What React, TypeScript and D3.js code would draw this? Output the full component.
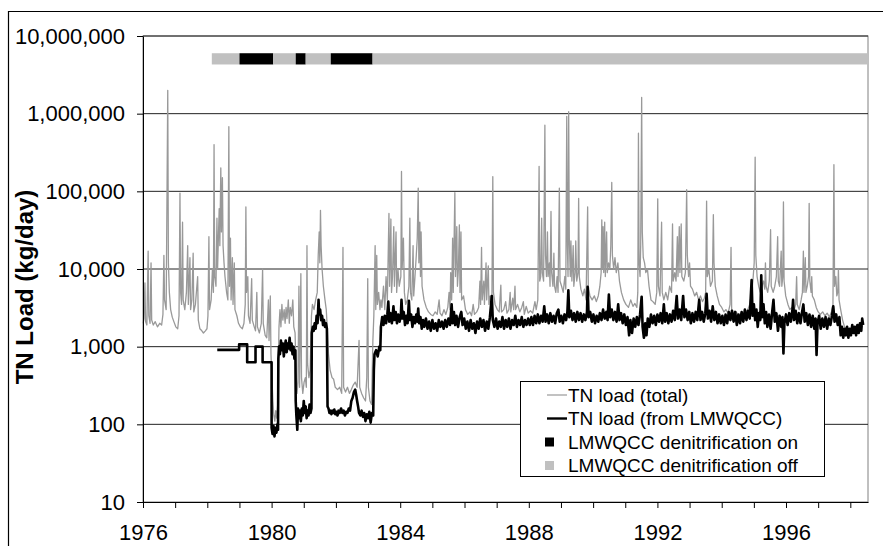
import * as d3 from "d3";
import { useEffect, useRef } from "react";

// decimal year, kg/day
const totalLoad: [number, number][] = [
  [1976.00,2000],[1976.03,2300],[1976.06,6600],[1976.08,2100],[1976.12,1900],[1976.16,17000],[1976.18,2500],[1976.22,2000],[1976.25,12000],[1976.27,2200],[1976.32,1900],[1976.38,2100],[1976.45,1800],[1976.52,2000],[1976.58,1900],[1976.62,2600],[1976.65,15000],[1976.67,4000],[1976.72,3000],[1976.77,2000000],[1976.79,12000],[1976.82,5000],[1976.86,3000],[1976.91,2400],[1976.96,2100],
  [1977.02,1800],[1977.08,1700],[1977.12,2500],[1977.15,95000],[1977.17,5000],[1977.20,3500],[1977.23,40000],[1977.25,4000],[1977.30,3000],[1977.35,5000],[1977.39,20000],[1977.41,3500],[1977.46,14000],[1977.48,3000],[1977.52,4000],[1977.56,16000],[1977.58,2800],[1977.63,3500],[1977.70,8000],[1977.72,2200],[1977.77,1700],[1977.83,1600],[1977.88,1500],[1977.94,1600],[1977.99,1700],
  [1978.02,2500],[1978.05,26000],[1978.07,3000],[1978.12,4000],[1978.16,10000],[1978.19,5000],[1978.21,400000],[1978.23,8000],[1978.27,6000],[1978.30,45000],[1978.32,10000],[1978.35,30000],[1978.37,60000],[1978.39,20000],[1978.42,200000],[1978.44,30000],[1978.47,150000],[1978.49,20000],[1978.52,12000],[1978.55,8000],[1978.60,5000],[1978.64,4000],[1978.67,680000],[1978.69,6000],[1978.72,25000],[1978.74,4000],[1978.78,14000],[1978.80,3500],[1978.84,12000],[1978.86,3000],[1978.92,2500],[1978.97,2000],
  [1979.03,1800],[1979.09,1700],[1979.14,2000],[1979.18,3500],[1979.20,63000],[1979.22,5000],[1979.26,8000],[1979.28,2500],[1979.33,2000],[1979.38,7500],[1979.40,2200],[1979.46,1800],[1979.50,1600],[1979.54,5000],[1979.56,1800],[1979.62,1500],[1979.68,2000],[1979.72,10000],[1979.74,2000],[1979.80,1400],[1979.85,1300],[1979.90,4000],[1979.92,1200],[1979.96,4500],[1979.98,800],
  [1980.01,400],[1980.04,200],[1980.07,130],[1980.10,110],[1980.13,150],[1980.16,120],[1980.19,180],[1980.21,600],[1980.23,1800],[1980.26,3000],[1980.29,1800],[1980.32,3500],[1980.35,2200],[1980.39,3000],[1980.42,2000],[1980.45,3200],[1980.48,2300],[1980.52,4000],[1980.55,2000],[1980.58,3200],[1980.62,2500],[1980.66,4000],[1980.69,1800],[1980.73,1500],[1980.76,500],[1980.79,250],[1980.82,350],[1980.85,6000],[1980.87,300],[1980.91,8700],[1980.93,400],[1980.97,250],
  [1981.01,350],[1981.05,400],[1981.08,300],[1981.10,20000],[1981.12,600],[1981.16,400],[1981.20,500],[1981.24,2500],[1981.27,3500],[1981.32,3000],[1981.37,4000],[1981.42,5000],[1981.45,15000],[1981.48,30000],[1981.50,12000],[1981.52,57000],[1981.54,20000],[1981.57,10000],[1981.61,6000],[1981.66,4000],[1981.70,3000],[1981.74,1500],[1981.77,800],[1981.82,500],[1981.88,400],[1981.93,380],[1981.98,300],
  [1982.05,280],[1982.12,300],[1982.18,250],[1982.22,19000],[1982.24,300],[1982.30,260],[1982.36,300],[1982.42,250],[1982.48,280],[1982.54,320],[1982.60,350],[1982.66,300],[1982.72,1200],[1982.74,300],[1982.80,250],[1982.86,220],[1982.92,200],[1982.96,400],[1982.99,7500],
  [1983.01,300],[1983.06,200],[1983.11,180],[1983.15,1200],[1983.18,2500],[1983.22,20000],[1983.24,3000],[1983.27,15000],[1983.29,3500],[1983.33,5000],[1983.37,3000],[1983.40,4000],[1983.43,3200],[1983.48,6000],[1983.52,3000],[1983.56,8000],[1983.60,4000],[1983.65,52000],[1983.67,6000],[1983.71,44000],[1983.73,5000],[1983.76,8000],[1983.80,35000],[1983.82,6000],[1983.87,30000],[1983.89,5000],[1983.93,10000],[1983.97,6000],
  [1984.02,8000],[1984.04,180000],[1984.06,10000],[1984.10,25000],[1984.13,5000],[1984.17,3500],[1984.22,4000],[1984.27,6000],[1984.30,45000],[1984.32,5000],[1984.36,4000],[1984.40,20000],[1984.42,4500],[1984.46,8000],[1984.50,15000],[1984.53,25000],[1984.56,110000],[1984.58,12000],[1984.61,40000],[1984.63,8000],[1984.65,30000],[1984.68,6000],[1984.74,4000],[1984.81,3200],[1984.88,2800],[1984.95,2600],
  [1985.02,2500],[1985.09,2800],[1985.15,2600],[1985.21,4000],[1985.24,2700],[1985.30,2500],[1985.36,3000],[1985.42,2600],[1985.48,3200],[1985.52,5000],[1985.55,3000],[1985.57,9000],[1985.60,4000],[1985.63,25000],[1985.65,5000],[1985.70,96000],[1985.72,8000],[1985.76,35000],[1985.78,6000],[1985.81,10000],[1985.84,37000],[1985.86,5000],[1985.89,30000],[1985.91,4000],[1985.97,4500],
  [1986.03,3000],[1986.10,2600],[1986.17,2800],[1986.22,2500],[1986.27,3500],[1986.31,2600],[1986.38,2800],[1986.44,3200],[1986.48,7000],[1986.50,3500],[1986.53,19000],[1986.55,4000],[1986.60,7000],[1986.62,3500],[1986.67,12000],[1986.69,4000],[1986.74,11000],[1986.76,3500],[1986.80,4500],[1986.85,3000],[1986.88,155000],[1986.90,5000],[1986.95,3500],
  [1987.02,3000],[1987.08,2800],[1987.13,6200],[1987.15,2800],[1987.22,3000],[1987.28,3800],[1987.32,2700],[1987.38,3000],[1987.42,5000],[1987.44,2800],[1987.50,4200],[1987.53,3000],[1987.57,6000],[1987.59,3000],[1987.65,3500],[1987.72,2800],[1987.78,3200],[1987.83,3800],[1987.86,2600],[1987.92,3300],[1987.98,2700],
  [1988.05,2900],[1988.12,2700],[1988.19,3800],[1988.23,3000],[1988.28,4000],[1988.32,210000],[1988.34,7000],[1988.37,8000],[1988.40,45000],[1988.42,9000],[1988.46,7000],[1988.50,710000],[1988.52,15000],[1988.55,8000],[1988.58,30000],[1988.60,8000],[1988.64,12000],[1988.66,6000],[1988.69,55000],[1988.71,9000],[1988.75,6000],[1988.78,16000],[1988.80,6000],[1988.84,5000],[1988.88,8000],[1988.91,5000],[1988.95,110000],[1988.97,7000],
  [1989.02,6000],[1989.07,5000],[1989.12,8000],[1989.15,5500],[1989.18,920000],[1989.20,20000],[1989.22,8000],[1989.24,1060000],[1989.26,25000],[1989.29,8000],[1989.31,23000],[1989.34,7000],[1989.38,20000],[1989.40,6000],[1989.44,9000],[1989.46,23000],[1989.49,7000],[1989.53,9000],[1989.55,81000],[1989.57,8000],[1989.62,5500],[1989.68,4500],[1989.73,5500],[1989.78,4000],[1989.83,63000],[1989.85,6000],[1989.90,4500],[1989.97,4000],
  [1990.04,4500],[1990.10,3800],[1990.16,4500],[1990.21,6000],[1990.25,9000],[1990.27,43000],[1990.29,10000],[1990.31,35000],[1990.33,9000],[1990.36,40000],[1990.38,8000],[1990.42,30000],[1990.44,9000],[1990.48,12000],[1990.52,10000],[1990.55,20000],[1990.58,130000],[1990.60,15000],[1990.64,10000],[1990.68,14000],[1990.72,9000],[1990.77,12000],[1990.82,7000],[1990.88,5000],[1990.95,4000],
  [1991.02,3500],[1991.10,3200],[1991.17,4000],[1991.24,3300],[1991.30,3600],[1991.36,3200],[1991.39,5000],[1991.41,560000],[1991.43,12000],[1991.46,8000],[1991.48,20000],[1991.51,1620000],[1991.53,30000],[1991.56,14000],[1991.60,12000],[1991.64,9000],[1991.69,10000],[1991.74,6000],[1991.80,4000],[1991.86,3800],[1991.93,3500],[1991.98,5000],
  [1992.01,80000],[1992.03,6000],[1992.08,4500],[1992.13,40000],[1992.15,5000],[1992.20,4000],[1992.26,5000],[1992.32,4000],[1992.38,6000],[1992.44,5000],[1992.47,38000],[1992.49,7000],[1992.54,9000],[1992.58,7000],[1992.62,26000],[1992.64,8000],[1992.68,35000],[1992.70,9000],[1992.74,38000],[1992.76,8000],[1992.82,7000],[1992.87,9000],[1992.91,105000],[1992.93,15000],[1992.97,8000],
  [1993.00,12000],[1993.03,6000],[1993.09,5500],[1993.16,4500],[1993.22,5000],[1993.28,4000],[1993.34,4500],[1993.40,3800],[1993.46,4200],[1993.50,5000],[1993.53,75000],[1993.55,8000],[1993.60,10000],[1993.65,6000],[1993.71,7000],[1993.74,50000],[1993.76,12000],[1993.80,6000],[1993.86,4500],[1993.93,3500],
  [1994.00,3200],[1994.07,2800],[1994.13,3000],[1994.20,2700],[1994.26,3500],[1994.29,19000],[1994.31,3000],[1994.38,2600],[1994.45,2800],[1994.52,2500],[1994.60,2700],[1994.67,2600],[1994.74,2800],[1994.81,3000],[1994.87,3500],[1994.93,5000],[1994.97,7000],
  [1995.01,12000],[1995.04,275000],[1995.06,15000],[1995.10,8000],[1995.15,6000],[1995.20,5000],[1995.25,6000],[1995.30,7000],[1995.34,5500],[1995.36,12000],[1995.38,6000],[1995.43,5000],[1995.48,7000],[1995.52,32000],[1995.54,6000],[1995.60,5000],[1995.65,6000],[1995.70,8000],[1995.74,26000],[1995.76,7000],[1995.80,6000],[1995.85,17000],[1995.87,6000],[1995.90,8000],[1995.92,73000],[1995.94,7000],[1995.99,4500],
  [1996.06,3500],[1996.12,3000],[1996.18,3200],[1996.24,2800],[1996.30,3500],[1996.33,8000],[1996.35,3500],[1996.41,3000],[1996.47,4000],[1996.51,5000],[1996.54,17000],[1996.56,5000],[1996.60,14000],[1996.62,5000],[1996.66,6000],[1996.70,8000],[1996.72,70000],[1996.74,7000],[1996.78,5000],[1996.80,8000],[1996.82,4500],[1996.88,4000],[1996.94,3200],
  [1997.00,2800],[1997.07,2600],[1997.14,2800],[1997.21,2500],[1997.28,2700],[1997.35,2400],[1997.41,2800],[1997.46,3500],[1997.49,220000],[1997.51,6000],[1997.55,8000],[1997.58,4500],[1997.61,5000],[1997.63,10000],[1997.65,4000],[1997.70,3000],[1997.76,2200],[1997.82,1800],[1997.90,1700],
  [1998.00,1600],[1998.10,1700],[1998.20,1600],[1998.30,1800],[1998.40,2000],
];

const lmwqccLoad: [number, number][] = [
  [1978.31,910],[1978.99,910],[1978.99,1070],[1979.24,1070],[1979.24,630],[1979.50,630],[1979.50,1000],[1979.72,1000],[1979.72,630],[1980.00,630],
  [1980.00,90],[1980.03,75],[1980.06,95],[1980.09,70],[1980.12,90],[1980.15,78],[1980.18,100],[1980.20,85],
  [1980.21,700],[1980.23,1000],[1980.26,800],[1980.29,1200],[1980.32,900],[1980.35,1100],[1980.38,750],[1980.41,1000],[1980.44,1200],[1980.47,850],[1980.50,1100],[1980.53,950],[1980.56,1300],[1980.59,900],[1980.62,1100],[1980.65,800],[1980.68,1000],[1980.71,700],[1980.74,900],
  [1980.75,200],[1980.77,130],[1980.80,85],[1980.82,160],[1980.85,120],[1980.88,150],[1980.91,110],[1980.94,160],[1980.97,130],[1981.00,200],[1981.03,140],[1981.06,170],[1981.09,120],[1981.12,150],[1981.15,130],[1981.18,180],[1981.21,140],[1981.24,160],
  [1981.25,1500],[1981.28,1800],[1981.31,1600],[1981.34,2000],[1981.37,1700],[1981.40,2500],[1981.43,2000],[1981.46,4000],[1981.48,2600],[1981.51,3000],[1981.54,2200],[1981.57,2500],[1981.60,1900],[1981.63,2200],[1981.66,1800],[1981.69,2000],[1981.72,1700],
  [1981.74,170],[1981.77,160],[1981.80,140],[1981.83,150],[1981.86,135],[1981.89,150],[1981.92,140],[1981.95,155],[1981.98,135],[1982.01,145],[1982.05,130],[1982.08,150],[1982.12,140],[1982.16,160],[1982.20,140],[1982.24,150],[1982.28,130],[1982.32,145],[1982.36,140],[1982.40,160],[1982.44,150],[1982.48,200],[1982.52,220],[1982.56,260],[1982.60,280],[1982.63,240],[1982.66,200],[1982.69,170],[1982.72,140],[1982.76,130],[1982.80,150],[1982.84,125],[1982.88,140],[1982.92,110],[1982.96,135],[1983.00,120],[1983.04,145],[1983.08,105],[1983.12,140],[1983.16,130],
  [1983.18,500],[1983.20,800],[1983.25,900],[1983.30,750],[1983.35,1000],[1983.38,900],
  [1983.40,1800],[1983.44,2400],[1983.48,1900],[1983.52,2500],[1983.56,2000],[1983.60,2600],[1983.63,3800],[1983.66,2100],[1983.70,2700],[1983.74,2000],[1983.79,3300],[1983.82,2200],[1983.86,2800],[1983.90,2000],[1983.94,2600],[1983.98,2100],
  [1984.02,2500],[1984.04,4000],[1984.07,2300],[1984.11,2800],[1984.15,1900],[1984.19,2500],[1984.23,2000],[1984.27,3900],[1984.30,2200],[1984.34,2600],[1984.38,1800],[1984.42,2400],[1984.46,2000],[1984.50,2600],[1984.53,2100],[1984.56,3100],[1984.59,2000],[1984.63,2400],[1984.67,1700],[1984.71,2200],[1984.75,1800],[1984.80,2300],[1984.85,1700],[1984.90,2100],[1984.95,1600],
  [1985.00,2200],[1985.05,1700],[1985.10,2000],[1985.15,1600],[1985.20,2200],[1985.25,1800],[1985.30,2100],[1985.35,1700],[1985.40,2200],[1985.45,1800],[1985.50,2300],[1985.55,1900],[1985.60,3500],[1985.63,2000],[1985.67,2800],[1985.71,1900],[1985.75,2500],[1985.80,1800],[1985.85,2400],[1985.90,2800],[1985.94,1900],[1985.99,2300],
  [1986.04,1700],[1986.09,2100],[1986.14,1600],[1986.19,2200],[1986.24,1700],[1986.29,2000],[1986.34,1500],[1986.39,2100],[1986.44,1700],[1986.49,2300],[1986.54,1800],[1986.59,2200],[1986.64,1600],[1986.69,2100],[1986.74,1700],[1986.79,2400],[1986.85,4500],[1986.88,2200],[1986.93,1800],[1986.98,2300],
  [1987.03,1700],[1987.08,2100],[1987.13,1800],[1987.18,2400],[1987.23,1700],[1987.28,2200],[1987.33,1800],[1987.38,2300],[1987.43,1700],[1987.48,2200],[1987.53,1900],[1987.58,2500],[1987.63,1800],[1987.68,2200],[1987.73,1900],[1987.78,2400],[1987.83,1800],[1987.88,2200],[1987.93,1900],[1987.98,2300],
  [1988.03,1900],[1988.08,2400],[1988.13,1900],[1988.18,2500],[1988.23,2000],[1988.28,2600],[1988.33,2000],[1988.38,2500],[1988.43,2100],[1988.48,3300],[1988.52,2100],[1988.57,2600],[1988.62,2000],[1988.67,2700],[1988.72,2100],[1988.77,2500],[1988.82,2000],[1988.87,2700],[1988.92,3000],[1988.96,2100],
  [1989.01,2500],[1989.06,2000],[1989.11,2600],[1989.16,2200],[1989.20,2800],[1989.23,5300],[1989.26,2400],[1989.31,2900],[1989.36,2200],[1989.41,2700],[1989.46,2100],[1989.51,2800],[1989.56,2200],[1989.61,2700],[1989.66,2100],[1989.71,2600],[1989.76,2200],[1989.81,2800],[1989.83,5900],[1989.86,2400],[1989.91,2800],[1989.96,2100],
  [1990.01,2600],[1990.06,2000],[1990.11,2500],[1990.16,2100],[1990.21,2700],[1990.26,2200],[1990.31,3000],[1990.36,2300],[1990.41,2800],[1990.45,2200],[1990.49,4700],[1990.53,2400],[1990.58,3000],[1990.63,2200],[1990.68,2800],[1990.73,2100],[1990.78,3500],[1990.82,2200],[1990.87,2700],[1990.92,2000],[1990.97,2600],
  [1991.02,1900],[1991.07,2400],[1991.12,1400],[1991.16,2200],[1991.21,1500],[1991.26,2300],[1991.31,1800],[1991.36,2400],[1991.41,1900],[1991.46,2600],[1991.51,4400],[1991.54,1800],[1991.58,1300],[1991.62,2000],[1991.66,1400],[1991.70,2300],[1991.75,1800],[1991.80,2600],[1991.85,2000],[1991.90,2500],[1991.95,1900],
  [1992.00,2600],[1992.05,2100],[1992.10,2700],[1992.15,2000],[1992.20,3500],[1992.24,2100],[1992.29,2700],[1992.34,2000],[1992.39,2600],[1992.44,2100],[1992.49,2900],[1992.54,2200],[1992.60,4500],[1992.64,2300],[1992.69,3000],[1992.74,2200],[1992.80,4500],[1992.84,2400],[1992.89,3000],[1992.94,2200],[1992.99,2800],
  [1993.04,2000],[1993.09,2700],[1993.14,2100],[1993.19,2800],[1993.24,2200],[1993.30,4000],[1993.34,2200],[1993.39,2800],[1993.44,2100],[1993.49,2700],[1993.53,4800],[1993.57,2300],[1993.62,2900],[1993.67,2100],[1993.72,3300],[1993.77,2200],[1993.82,2800],[1993.87,2000],[1993.92,2600],[1993.97,2000],
  [1994.02,2500],[1994.07,1900],[1994.12,2600],[1994.17,2000],[1994.22,2800],[1994.27,2200],[1994.32,2900],[1994.37,2100],[1994.42,2800],[1994.47,1900],[1994.52,2600],[1994.57,2000],[1994.62,2800],[1994.67,2100],[1994.72,3000],[1994.77,2200],[1994.82,2900],[1994.87,2300],[1994.93,7200],[1994.96,2500],
  [1995.00,3500],[1995.04,2200],[1995.08,3000],[1995.12,1800],[1995.16,2700],[1995.20,2200],[1995.23,8300],[1995.26,2400],[1995.30,3500],[1995.34,2000],[1995.38,2800],[1995.42,1800],[1995.47,2600],[1995.52,1700],[1995.57,2800],[1995.61,4000],[1995.65,2100],[1995.70,2700],[1995.75,1600],[1995.80,2500],[1995.85,1800],[1995.89,2400],[1995.92,820],[1995.95,2000],
  [1996.00,2600],[1996.05,1900],[1996.10,2700],[1996.15,2100],[1996.20,3000],[1996.22,4000],[1996.25,2200],[1996.30,2900],[1996.35,2000],[1996.40,2700],[1996.45,2000],[1996.50,2800],[1996.54,3500],[1996.58,2100],[1996.63,2700],[1996.68,1900],[1996.73,2600],[1996.78,1800],[1996.83,2500],[1996.88,1700],[1996.92,2300],[1996.95,780],[1996.98,2000],
  [1997.03,2500],[1997.08,1700],[1997.13,2300],[1997.18,1800],[1997.23,2400],[1997.28,1700],[1997.33,2300],[1997.38,1900],[1997.43,2500],[1997.47,3300],[1997.51,2100],[1997.56,2600],[1997.61,1900],[1997.66,2400],[1997.70,1400],[1997.74,1800],[1997.78,1300],[1997.82,1700],[1997.86,1400],[1997.90,1800],[1997.94,1300],[1997.98,1700],
  [1998.02,1400],[1998.06,1900],[1998.10,1500],[1998.14,1800],[1998.18,1400],[1998.22,1900],[1998.26,1500],[1998.30,2000],[1998.34,1600],[1998.37,2300],[1998.40,1900],
];

// denitrification status periods: start, end, on?
const denitStart = [1978.14, 1979.0, 1980.05, 1980.75, 1981.06, 1981.84, 1983.14];
const denitEnd = [1979.0, 1980.05, 1980.75, 1981.06, 1981.84, 1983.14, 1998.55];
const denitOn = [false, true, false, true, false, true, false];

const yTicks = [10, 100, 1000, 10000, 100000, 1000000, 10000000];
const yearTicks = d3.range(1976, 1999);
const labelYears = [1976, 1980, 1984, 1988, 1992, 1996];
const legendLabels = [
  "TN load (total)",
  "TN load (from LMWQCC)",
  "LMWQCC denitrification on",
  "LMWQCC denitrification off",
];

const FONT = "Arial, 'Liberation Sans', sans-serif";

export default function App() {
  const svgRef = useRef<SVGSVGElement>(null);

  useEffect(() => {
    const svg = d3.select(svgRef.current);
    svg.selectAll("*").remove();

    const x = d3.scaleLinear().domain([1976, 1998.55]).range([143, 868]);
    const y = d3.scaleLog().domain([10, 1e7]).range([502, 36]);

    // chart area border (cut off by the picture on right and bottom)
    svg.append("path")
      .attr("d", "M8.5,600V11.5H900")
      .attr("fill", "none")
      .attr("stroke", "#000")
      .attr("stroke-width", 1.2);

    // plot area
    svg.append("rect")
      .attr("x", 143).attr("y", 36)
      .attr("width", 868 - 143).attr("height", 502 - 36)
      .attr("fill", "none")
      .attr("stroke", "#808080");

    svg.append("g")
      .selectAll("line")
      .data(yTicks.slice(1))
      .join("line")
      .attr("x1", 143).attr("x2", 868)
      .attr("y1", (d) => y(d)).attr("y2", (d) => y(d))
      .attr("stroke", "#222")
      .attr("stroke-width", 1);

    // denitrification bar
    svg.append("g")
      .selectAll("rect")
      .data(denitStart)
      .join("rect")
      .attr("x", (d) => x(d))
      .attr("width", (d, i) => x(denitEnd[i]) - x(d))
      .attr("y", y(6.0e6))
      .attr("height", y(4.3e6) - y(6.0e6))
      .attr("fill", (d, i) => (denitOn[i] ? "#000" : "#c0c0c0"));

    const line = d3.line<[number, number]>()
      .x((d) => x(d[0]))
      .y((d) => y(d[1]));

    svg.append("path")
      .attr("d", line(totalLoad))
      .attr("fill", "none")
      .attr("stroke", "#999")
      .attr("stroke-width", 1.3)
      .attr("stroke-linejoin", "round");

    svg.append("path")
      .attr("d", line(lmwqccLoad))
      .attr("fill", "none")
      .attr("stroke", "#000")
      .attr("stroke-width", 2.6)
      .attr("stroke-linejoin", "round");

    // axes
    const xAxis = d3.axisBottom(x)
      .tickValues(yearTicks)
      .tickSize(6)
      .tickSizeOuter(0)
      .tickPadding(16)
      .tickFormat((d) => (labelYears.includes(+d) ? String(d) : ""));
    const gx = svg.append("g").attr("transform", "translate(0,502)").call(xAxis);

    const yAxis = d3.axisLeft(y)
      .tickValues(yTicks)
      .tickSize(6)
      .tickSizeOuter(0)
      .tickPadding(12)
      .tickFormat((d) => d3.format(",")(+d));
    const gy = svg.append("g").attr("transform", "translate(143,0)").call(yAxis);

    [gx, gy].forEach((g) => {
      g.select(".domain").attr("stroke", "#000");
      g.selectAll(".tick line").attr("stroke", "#000");
      g.selectAll("text")
        .attr("fill", "#000")
        .style("font-family", FONT)
        .style("font-size", "22px");
    });

    svg.append("text")
      .attr("transform", "translate(33,287) rotate(-90)")
      .attr("text-anchor", "middle")
      .style("font-family", FONT)
      .style("font-size", "24px")
      .style("font-weight", "bold")
      .text("TN Load (kg/day)");

    // legend
    const lg = svg.append("g");
    lg.append("rect")
      .attr("x", 520.5).attr("y", 381.5)
      .attr("width", 304).attr("height", 95)
      .attr("fill", "#fff")
      .attr("stroke", "#000");

    const rowY = (i: number) => 395 + i * 23.5;
    lg.append("line")
      .attr("x1", 547).attr("x2", 567).attr("y1", rowY(0)).attr("y2", rowY(0))
      .attr("stroke", "#999").attr("stroke-width", 1.2);
    lg.append("line")
      .attr("x1", 547).attr("x2", 567).attr("y1", rowY(1)).attr("y2", rowY(1))
      .attr("stroke", "#000").attr("stroke-width", 2.4);
    lg.append("rect")
      .attr("x", 545).attr("y", rowY(2) - 4.5).attr("width", 9).attr("height", 9)
      .attr("fill", "#000");
    lg.append("rect")
      .attr("x", 545).attr("y", rowY(3) - 4.5).attr("width", 9).attr("height", 9)
      .attr("fill", "#c0c0c0");

    lg.selectAll("text.lab")
      .data(legendLabels)
      .join("text")
      .attr("class", "lab")
      .attr("x", 568)
      .attr("y", (d, i) => rowY(i))
      .attr("dy", "0.35em")
      .style("font-family", FONT)
      .style("font-size", "19px")
      .text((d) => d);
  }, []);

  return (
    <svg
      ref={svgRef}
      width={883}
      height={546}
      style={{ position: "absolute", left: 0, top: 0, background: "#fff" }}
    />
  );
}
